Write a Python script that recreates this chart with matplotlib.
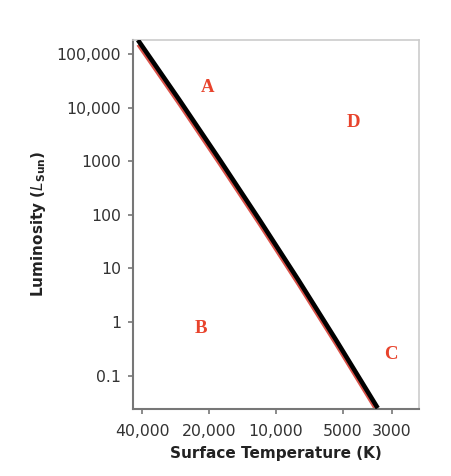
import matplotlib
matplotlib.use("Agg")
import matplotlib.pyplot as plt
from matplotlib.ticker import FixedLocator, NullLocator

# Data
main_T = [41800, 27200, 17850, 11830, 7910, 5350, 3475]
main_L = [182000, 13900, 1050, 80, 6.08, 0.461, 0.0249]
red_T = [41800, 27200, 17850, 11830, 7910, 5350, 3475]
red_L = [148000, 11300, 850, 65, 4.93, 0.374, 0.0202]

x_ticks = [40000, 20000, 10000, 5000, 3000]
x_labels = ["40,000", "20,000", "10,000", "5000", "3000"]
y_ticks = [0.1, 1, 10, 100, 1000, 10000, 100000]
y_labels = ["0.1", "1", "10", "100", "1000", "10,000", "100,000"]

letters = ["A", "D", "B", "C"]
letter_T = [20200, 4450, 21800, 3030]
letter_L = [23200, 5380, 0.77, 0.253]

fig = plt.figure(figsize=(4.52, 4.76), dpi=100)
ax = fig.add_axes([0.2942, 0.1408, 0.927 - 0.2942, 0.917 - 0.1408])

ax.set_xscale("log")
ax.set_yscale("log")
ax.set_xlim(44000, 2265)
ax.set_ylim(0.024, 186000)

ax.plot(red_T, red_L, color="#d9534a", lw=2.2, solid_capstyle="butt", zorder=2)
ax.plot(main_T, main_L, color="black", lw=3.3, solid_capstyle="butt", zorder=3)

for s, t, l in zip(letters, letter_T, letter_L):
    ax.text(t, l, s, color="#e8432c", fontsize=13.5, fontweight="bold",
            family="Liberation Serif", ha="center", va="center")

ax.xaxis.set_major_locator(FixedLocator(x_ticks))
ax.xaxis.set_minor_locator(NullLocator())
ax.set_xticklabels(x_labels)
ax.yaxis.set_major_locator(FixedLocator(y_ticks))
ax.yaxis.set_minor_locator(NullLocator())
ax.set_yticklabels(y_labels)

ax.tick_params(axis="both", direction="out", length=3.5, width=1.2,
               color="#777777", labelcolor="#333333", labelsize=11.3)
ax.tick_params(axis="x", pad=7)
ax.tick_params(axis="y", pad=5)

for side in ["left", "bottom"]:
    ax.spines[side].set_color("#777777")
    ax.spines[side].set_linewidth(1.5)
for side in ["top", "right"]:
    ax.spines[side].set_color("#cccccc")
    ax.spines[side].set_linewidth(1.2)

ax.set_xlabel("Surface Temperature (K)", fontsize=11, fontweight="bold",
              color="#222222", labelpad=5)
ax.set_ylabel(r"Luminosity ($\mathbf{\mathit{L}}_{\mathbf{Sun}}$)", fontsize=11,
              fontweight="bold", color="#222222", labelpad=6.5)

fig.savefig("out.png", dpi=100)
